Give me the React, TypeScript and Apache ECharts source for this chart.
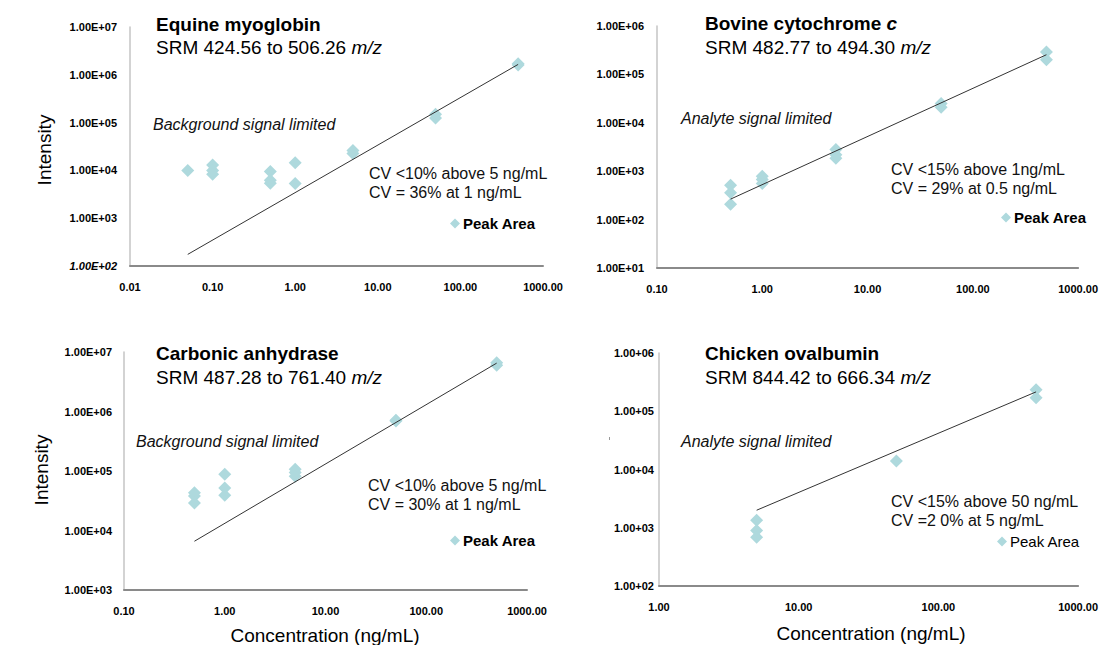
import React, { useEffect, useRef } from "react";
import * as echarts from "echarts";

const FONT = "'Liberation Sans', Arial, sans-serif";

// ---------- Data ----------
// Panel 1: Equine myoglobin
const myoConc = [0.05, 0.1, 0.1, 0.1, 0.5, 0.5, 0.5, 1, 1, 5, 5, 50, 50, 500, 500];
const myoArea = [1.0e4, 1.3e4, 1.0e4, 8.3e3, 9.5e3, 6.2e3, 5.4e3, 1.45e4, 5.3e3, 2.6e4, 2.25e4, 1.5e5, 1.25e5, 1.7e6, 1.6e6];
const myoTrendConc = [0.05, 500];
const myoTrendVal = [175, 1.65e6];
const myoXTicks = ["0.01", "0.10", "1.00", "10.00", "100.00", "1000.00"];
const myoYTicks = ["1.00E+02", "1.00E+03", "1.00E+04", "1.00E+05", "1.00E+06", "1.00E+07"];

// Panel 2: Bovine cytochrome c
const cytConc = [0.5, 0.5, 0.5, 1, 1, 1, 5, 5, 5, 50, 50, 500, 500];
const cytArea = [515, 357, 208, 790, 670, 560, 2.8e3, 2.2e3, 1.85e3, 2.5e4, 2.1e4, 2.9e5, 2.0e5];
const cytTrendConc = [0.5, 500];
const cytTrendVal = [265, 2.55e5];
const cytXTicks = ["0.10", "1.00", "10.00", "100.00", "1000.00"];
const cytYTicks = ["1.00E+01", "1.00E+02", "1.00E+03", "1.00E+04", "1.00E+05", "1.00E+06"];

// Panel 3: Carbonic anhydrase
const carConc = [0.5, 0.5, 0.5, 1, 1, 1, 5, 5, 5, 50, 50, 500, 500];
const carArea = [4.3e4, 3.8e4, 2.9e4, 8.8e4, 5.2e4, 3.9e4, 1.07e5, 9.4e4, 8.2e4, 7.1e5, 6.9e5, 6.6e6, 6.0e6];
const carTrendConc = [0.5, 500];
const carTrendVal = [6.6e3, 6.5e6];
const carXTicks = ["0.10", "1.00", "10.00", "100.00", "1000.00"];
const carYTicks = ["1.00E+03", "1.00E+04", "1.00E+05", "1.00E+06", "1.00E+07"];

// Panel 4: Chicken ovalbumin
const ovaConc = [5, 5, 5, 50, 500, 500];
const ovaArea = [1.34e3, 900, 690, 1.4e4, 2.35e5, 1.7e5];
const ovaTrendConc = [5, 500];
const ovaTrendVal = [2.0e3, 2.15e5];
const ovaXTicks = ["1.00", "10.00", "100.00", "1000.00"];
const ovaYTicks = ["1.00+02", "1.00+03", "1.00+04", "1.00+05", "1.00+06"];

const titles = ["Equine myoglobin", "Bovine cytochrome ", "Carbonic anhydrase", "Chicken ovalbumin"];
const subtitles = ["SRM 424.56 to 506.26 ", "SRM 482.77 to 494.30 ", "SRM 487.28 to 761.40 ", "SRM 844.42 to 666.34 "];
const notes = ["Background signal limited", "Analyte signal limited", "Background signal limited", "Analyte signal limited"];
const cvLines = [
  ["CV <10% above 5 ng/mL", "CV = 36% at 1 ng/mL"],
  ["CV <15% above 1ng/mL", "CV = 29% at 0.5 ng/mL"],
  ["CV <10% above 5 ng/mL", "CV = 30% at 1 ng/mL"],
  ["CV <15% above 50 ng/mL", "CV =2 0% at 5 ng/mL"],
];
const seriesName = "Peak Area";
const xAxisName = "Concentration (ng/mL)";
const yAxisName = "Intensity";

const panelData = [
  { conc: myoConc, area: myoArea, tc: myoTrendConc, tv: myoTrendVal, xt: myoXTicks, yt: myoYTicks, xmin: 0.01, xmax: 1000, ymin: 1e2, ymax: 1e7, italicFirstY: true },
  { conc: cytConc, area: cytArea, tc: cytTrendConc, tv: cytTrendVal, xt: cytXTicks, yt: cytYTicks, xmin: 0.1, xmax: 1000, ymin: 1e1, ymax: 1e6, italicFirstY: false },
  { conc: carConc, area: carArea, tc: carTrendConc, tv: carTrendVal, xt: carXTicks, yt: carYTicks, xmin: 0.1, xmax: 1000, ymin: 1e3, ymax: 1e7, italicFirstY: false },
  { conc: ovaConc, area: ovaArea, tc: ovaTrendConc, tv: ovaTrendVal, xt: ovaXTicks, yt: ovaYTicks, xmin: 1, xmax: 1000, ymin: 1e2, ymax: 1e6, italicFirstY: false },
];

// ---------- Layout ----------
const layout = [
  { left: 130, top: 27, width: 413, height: 239, yMargin: 13, titleX: 156, titleY: 24, subY: 47, noteX: 153, noteY: 124, cvX: 369, cvY: 173, legX: 455, legY: 224, legBold: true },
  { left: 657, top: 26, width: 422, height: 242, yMargin: 13, titleX: 705, titleY: 23.5, subY: 47, noteX: 681, noteY: 118, cvX: 891, cvY: 169, legX: 1006, legY: 218, legBold: true },
  { left: 124, top: 352, width: 403, height: 238, yMargin: 12, titleX: 156, titleY: 353, subY: 377, noteX: 136, noteY: 441, cvX: 368, cvY: 485, legX: 455, legY: 541, legBold: true },
  { left: 659, top: 353, width: 424, height: 233, yMargin: 5, titleX: 705, titleY: 353, subY: 377, noteX: 681, noteY: 441, cvX: 891, cvY: 501, legX: 1002, legY: 542, legBold: false },
];

const MARKER = "#aed9dd";

function buildOption() {
  const grid: any[] = [];
  const xAxis: any[] = [];
  const yAxis: any[] = [];
  const series: any[] = [];
  const legend: any[] = [];
  const graphic: any[] = [];

  panelData.forEach((p, i) => {
    const L = layout[i];
    grid.push({ left: L.left, top: L.top, width: L.width, height: L.height, containLabel: false });
    const lxmin = Math.log10(p.xmin);
    const lymin = Math.log10(p.ymin);
    xAxis.push({
      type: "log",
      logBase: 10,
      gridIndex: i,
      min: p.xmin,
      max: p.xmax,
      interval: 1,
      axisLine: { show: true, lineStyle: { color: "#8a8a8a", width: 2 } },
      axisTick: { show: false },
      splitLine: { show: false },
      axisLabel: {
        margin: 15,
        fontSize: 11,
        fontFamily: FONT,
        color: "#000",
        fontWeight: "bold",
        formatter: (v: number) => p.xt[Math.round(Math.log10(v) - lxmin)] ?? "",
      },
    });
    yAxis.push({
      type: "log",
      logBase: 10,
      gridIndex: i,
      min: p.ymin,
      max: p.ymax,
      interval: 1,
      axisLine: { show: true, lineStyle: { color: "#c4c4c4", width: 1.5 } },
      axisTick: { show: false },
      splitLine: { show: false },
      axisLabel: {
        margin: L.yMargin,
        fontSize: 11,
        fontFamily: FONT,
        color: "#000",
        fontWeight: "bold",
        formatter: (v: number) => {
          const idx = Math.round(Math.log10(v) - lymin);
          const t = p.yt[idx] ?? "";
          return idx === 0 && p.italicFirstY ? "{it|" + t + "}" : t;
        },
        rich: { it: { fontSize: 11, fontFamily: FONT, color: "#000", fontWeight: "bold", fontStyle: "italic" } },
      },
    });
    series.push({
      type: "line",
      name: "Trend" + i,
      xAxisIndex: i,
      yAxisIndex: i,
      data: p.tc.map((c, k) => [c, p.tv[k]]),
      symbol: "none",
      lineStyle: { color: "#333", width: 1 },
      silent: true,
      z: 3,
    });
    series.push({
      type: "scatter",
      name: seriesName,
      xAxisIndex: i,
      yAxisIndex: i,
      data: p.conc.map((c, k) => [c, p.area[k]]),
      symbol: "diamond",
      symbolSize: 13,
      itemStyle: { color: MARKER, opacity: 1 },
      z: 2,
    });
    legend.push({
      data: [seriesName],
      left: L.legX - 5,
      top: L.legY - 8,
      padding: 0,
      icon: "diamond",
      itemWidth: 10,
      itemHeight: 10,
      itemGap: 0,
      selectedMode: false,
      textStyle: { fontSize: 15, fontFamily: FONT, color: "#000", fontWeight: L.legBold ? "bold" : "normal", padding: [0, 0, 0, -2] },
    });

    graphic.push({
      type: "text",
      x: L.titleX,
      y: L.titleY,
      style: { text: titles[i] + (i === 1 ? "{i|c}" : ""), fontSize: 19, fontWeight: "bold", fontFamily: FONT, fill: "#000", verticalAlign: "middle",
        rich: { i: { fontSize: 19, fontWeight: "bold", fontStyle: "italic", fontFamily: FONT, fill: "#000" } } },
    });
    graphic.push({
      type: "text",
      x: L.titleX,
      y: L.subY,
      style: { text: subtitles[i] + "{i|m/z}", fontSize: 19, fontFamily: FONT, fill: "#000", verticalAlign: "middle",
        rich: { i: { fontSize: 19, fontStyle: "italic", fontFamily: FONT, fill: "#000" } } },
    });
    graphic.push({
      type: "text",
      x: L.noteX,
      y: L.noteY,
      style: { text: notes[i], fontSize: 16, fontStyle: "italic", fontFamily: FONT, fill: "#111", verticalAlign: "middle" },
    });
    graphic.push({
      type: "text",
      x: L.cvX,
      y: L.cvY - 9.5,
      style: { text: cvLines[i].join("\n"), fontSize: 16, lineHeight: 19, fontFamily: FONT, fill: "#111", verticalAlign: "top" },
    });
  });

  // axis names
  [[44, 150], [41, 470]].forEach(([x, y]) => {
    graphic.push({
      type: "text",
      x,
      y,
      rotation: Math.PI / 2,
      style: { text: yAxisName, fontSize: 19, fontFamily: FONT, fill: "#000", align: "center", verticalAlign: "middle" },
    });
  });
  [[325, 635], [871, 633]].forEach(([x, y]) => {
    graphic.push({
      type: "text",
      x,
      y,
      style: { text: xAxisName, fontSize: 19, fontFamily: FONT, fill: "#000", align: "center", verticalAlign: "middle" },
    });
  });
  // small stray tick mark left of the lower-right panel
  graphic.push({
    type: "line",
    shape: { x1: 609.5, y1: 437, x2: 609.5, y2: 440 },
    style: { stroke: "#999", lineWidth: 1 },
  });

  return {
    animation: false,
    backgroundColor: "#fff",
    grid,
    xAxis,
    yAxis,
    series,
    legend,
    graphic,
  };
}

export default function App() {
  const ref = useRef<HTMLDivElement>(null);
  useEffect(() => {
    if (!ref.current) return;
    const chart = echarts.init(ref.current, undefined, { renderer: "svg" });
    chart.setOption(buildOption() as any);
    return () => chart.dispose();
  }, []);
  return (
    <div
      ref={ref}
      style={{ position: "fixed", left: 0, top: 0, width: 1101, height: 645, background: "#fff" }}
    />
  );
}
